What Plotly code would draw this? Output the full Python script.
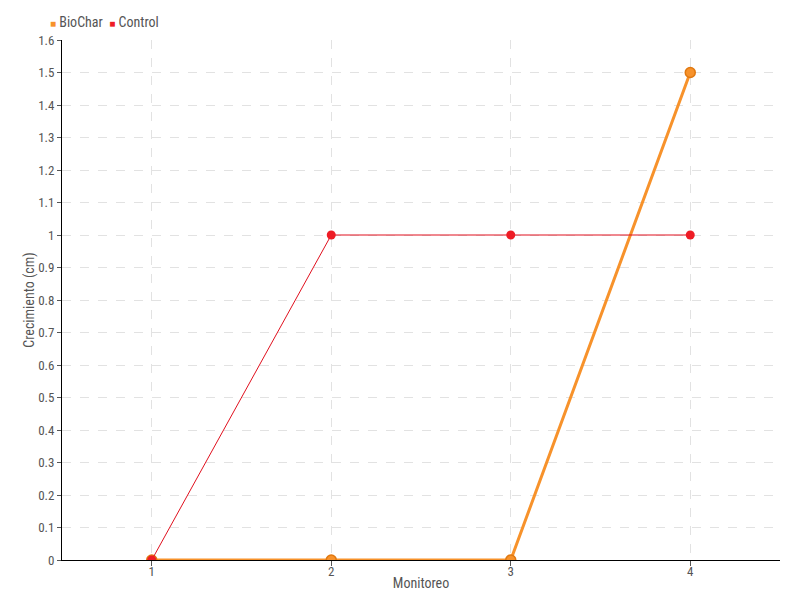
import plotly.graph_objects as go

monitoreo = [1, 2, 3, 4]
biochar = [0, 0, 0, 1.5]
control = [0, 1, 1, 1]
y_ticks = [0, 0.1, 0.2, 0.3, 0.4, 0.5, 0.6, 0.7, 0.8, 0.9, 1, 1.1, 1.2, 1.3, 1.4, 1.5, 1.6]
y_labels = ["0", "0.1", "0.2", "0.3", "0.4", "0.5", "0.6", "0.7", "0.8", "0.9", "1", "1.1", "1.2", "1.3", "1.4", "1.5", "1.6"]

FONT = "Liberation Sans Narrow, Roboto Condensed, Roboto, sans-serif"
BIO_COLOR = "#f7922b"
CTRL_COLOR = "#ee1c25"

fig = go.Figure()
fig.add_trace(go.Scatter(
    x=monitoreo, y=biochar, name="BioChar", mode="lines+markers", showlegend=False,
    line=dict(color=BIO_COLOR, width=3),
    marker=dict(size=10, color=BIO_COLOR, symbol="circle", line=dict(color="#e07810", width=1.5)),
))
fig.add_trace(go.Scatter(
    x=monitoreo, y=control, name="Control", mode="lines+markers", showlegend=False,
    line=dict(color="#e0101e", width=1),
    marker=dict(size=9, color=CTRL_COLOR, symbol="circle"),
))

legend_text = (f"<span style='color:{BIO_COLOR};font-size:10px'>■</span> BioChar  "
               f"<span style='color:{CTRL_COLOR};font-size:10px'>■</span> Control")

plot_w = 800 - 54 - 28
plot_h = 600 - 32 - 48

fig.update_layout(
    width=800, height=600,
    paper_bgcolor="white", plot_bgcolor="white",
    margin=dict(l=54, r=28, t=32, b=48, autoexpand=False),
    font=dict(family=FONT, size=13, color="#555555"),
    showlegend=False,
    annotations=[dict(text=legend_text, x=(40 - 54) / plot_w, y=1 + (32 - 14) / plot_h,
                      xref="paper", yref="paper",
                      xanchor="left", yanchor="middle", showarrow=False,
                      font=dict(size=14, color="#555555"))],
    xaxis=dict(
        range=[0.5, 4.5], tickvals=monitoreo, ticktext=[str(v) for v in monitoreo],
        showgrid=True, gridcolor="#e2e2e2", griddash="dash", gridwidth=1,
        showline=True, linecolor="#000000", linewidth=1,
        ticks="outside", ticklen=5, tickcolor="#555555",
        ticklabelstandoff=-6,
        zeroline=False,
        title=dict(text="Monitoreo", standoff=0, font=dict(size=14, color="#555555")),
    ),
    yaxis=dict(
        range=[0, 1.6], tickvals=y_ticks, ticktext=y_labels,
        showgrid=True, gridcolor="#e2e2e2", griddash="dash", gridwidth=1,
        showline=True, linecolor="#000000", linewidth=1,
        ticks="outside", ticklen=4, tickcolor="#555555",
        zeroline=False,
        title=dict(text="Crecimiento (cm)", standoff=0, font=dict(size=14, color="#555555")),
    ),
)

fig.write_html("out.html")
